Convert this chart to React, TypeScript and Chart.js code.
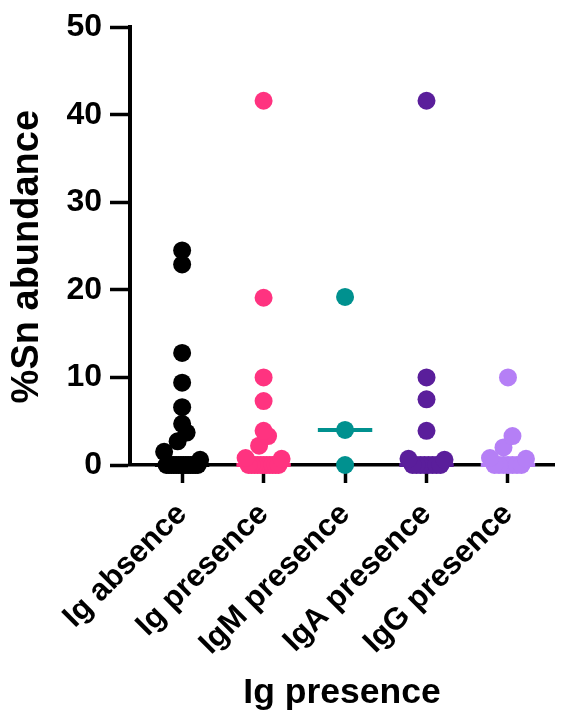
import { useEffect, useRef } from "react";
import { Chart, registerables } from "chart.js";

Chart.register(...registerables);

// ---- data ----
const categories = ["Ig absence", "Ig presence", "IgM presence", "IgA presence", "IgG presence"];
const colors = ["#000000", "#FF3380", "#00918F", "#5A1E9B", "#B57FF6"];
const igAbsence = [24.5, 22.9, 12.8, 9.4, 6.6, 4.7, 3.7, 2.7, 1.5, 0.6, 0, 0, 0, 0, 0, 0, 0, 0, 0, 0, 0, 0, 0, 0];
const igPresence = [41.6, 19.1, 10.0, 7.3, 3.9, 3.3, 2.2, 0.8, 0.7, 0, 0, 0, 0, 0, 0, 0, 0, 0, 0, 0];
const igmPresence = [19.2, 4.0, 0];
const igaPresence = [41.6, 10.0, 7.5, 3.9, 0.7, 0.6, 0, 0, 0, 0, 0, 0, 0, 0];
const iggPresence = [10.0, 3.3, 2.0, 0.8, 0.7, 0, 0, 0, 0, 0, 0, 0];
const yTicks = [0, 10, 20, 30, 40, 50];
const yTitle = "%Sn abundance  ";
const xTitle = "Ig presence";

const groups = [igAbsence, igPresence, igmPresence, igaPresence, iggPresence];

const FONT = "'Liberation Sans', Arial, Helvetica, sans-serif";

function median(arr: number[]) {
  const s = [...arr].sort((a, b) => a - b);
  const n = s.length;
  return n % 2 ? s[(n - 1) / 2] : (s[n / 2 - 1] + s[n / 2]) / 2;
}

// GraphPad-like spreading: cluster nearly coincident points (in pixels), spread each cluster horizontally
function swarm(values: number[], idx: number, yPix: (v: number) => number, unitPx: number) {
  const T = 13.5, SPACING = 9, HALF = 18;
  const sorted = [...values].sort((a, b) => a - b);
  const clusters: number[][] = [];
  let cur: number[] = [];
  let startPx = 0;
  sorted.forEach((v) => {
    const p = yPix(v);
    if (cur.length && startPx - p < T) cur.push(v);
    else {
      if (cur.length) clusters.push(cur);
      cur = [v];
      startPx = p;
    }
  });
  if (cur.length) clusters.push(cur);
  const pts: { x: number; y: number }[] = [];
  clusters.forEach((list) => {
    const n = list.length;
    const sp = n > 1 ? Math.min(SPACING, (2 * HALF) / (n - 1)) : 0;
    const offs = list.map((_, i) => (i - (n - 1) / 2) * sp);
    offs.sort((a, b) => Math.abs(a) - Math.abs(b) || (n === 2 ? a - b : b - a));
    list.forEach((v, i) => pts.push({ x: idx + offs[i] / unitPx, y: v }));
  });
  return pts;
}

export default function App() {
  const ref = useRef<HTMLCanvasElement>(null);

  useEffect(() => {
    const canvas = ref.current!;
    const pointSets: any[] = groups.map((g, i) => ({
      type: "scatter",
      data: g.map((v) => ({ x: i, y: v })),
      backgroundColor: colors[i],
      borderWidth: 0,
      pointRadius: 9,
      pointHoverRadius: 9,
      clip: false,
      order: 0,
    }));
    const medianSets: any[] = groups.map((g, i) => {
      const m = median(g);
      return {
        type: "scatter",
        showLine: true,
        data: [
          { x: i - 0.334, y: m },
          { x: i + 0.334, y: m },
        ],
        borderColor: colors[i],
        borderWidth: 4,
        pointRadius: 0,
        pointHoverRadius: 0,
        clip: false,
        order: 1,
      };
    });

    const chart = new Chart(canvas, {
      type: "scatter",
      data: { datasets: [...pointSets, ...medianSets] },
      options: {
        animation: false,
        responsive: false,
        events: [],
        layout: { padding: { top: 22.7, right: 0, left: 0, bottom: 0 } },
        plugins: { legend: { display: false }, tooltip: { enabled: false } },
        scales: {
          x: {
            type: "linear",
            min: -0.64,
            max: 4.565,
            afterFit: (s: any) => {
              s.height = 717 - 465;
            },
            afterBuildTicks: (s: any) => {
              s.ticks = categories.map((_, i) => ({ value: i }));
            },
            grid: {
              drawOnChartArea: false,
              drawTicks: true,
              tickLength: 18,
              tickWidth: 3.5,
              tickColor: "#000",
            },
            border: { display: true, color: "#000", width: 3.5 },
            ticks: {
              autoSkip: false,
              minRotation: 45,
              maxRotation: 45,
              padding: 13,
              color: "#000",
              font: { family: FONT, size: 31, weight: "bold" },
              callback: (v: any) => categories[Math.round(Number(v))] ?? "",
            },
            title: {
              display: true,
              text: xTitle,
              color: "#000",
              font: { family: FONT, size: 35.5, weight: "bold" },
              padding: { top: 0, bottom: 2.7 },
            },
          },
          y: {
            type: "linear",
            min: 0,
            max: 50,
            afterFit: (s: any) => {
              s.width = 130;
            },
            afterBuildTicks: (s: any) => {
              s.ticks = yTicks.map((v) => ({ value: v }));
            },
            grid: {
              drawOnChartArea: false,
              drawTicks: true,
              tickLength: 20,
              tickWidth: 3.5,
              tickColor: "#000",
            },
            border: { display: true, color: "#000", width: 4 },
            ticks: {
              padding: 8,
              color: "#000",
              font: { family: FONT, size: 32, weight: "bold" },
            },
            title: {
              display: true,
              text: yTitle,
              color: "#000",
              font: { family: FONT, size: 38, weight: "bold" },
              padding: { top: 5.2, bottom: 0 },
            },
          },
        },
      } as any,
    });

    const xs: any = chart.scales.x;
    const ys: any = chart.scales.y;
    const unitPx = xs.getPixelForValue(1) - xs.getPixelForValue(0);
    groups.forEach((g, i) => {
      chart.data.datasets[i].data = swarm(g, i, (v) => ys.getPixelForValue(v), unitPx) as any;
    });
    chart.update("none");

    return () => chart.destroy();
  }, []);

  return (
    <div style={{ position: "fixed", left: 0, top: 0, width: 563, height: 717, background: "#fff" }}>
      <canvas ref={ref} width={563} height={717} />
    </div>
  );
}
